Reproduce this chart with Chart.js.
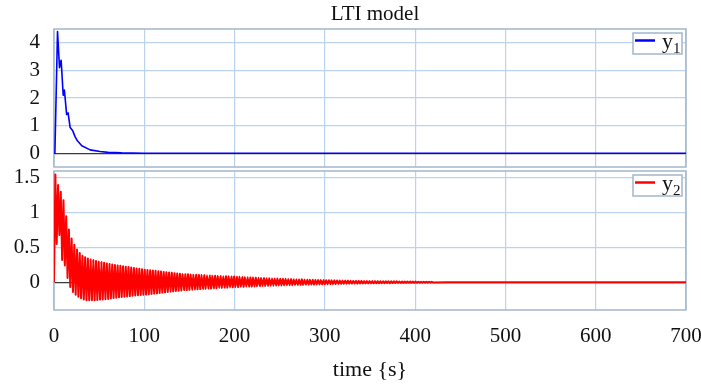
<!DOCTYPE html>
<html>
<head>
<meta charset="utf-8">
<script src="https://cdn.jsdelivr.net/npm/chart.js@4.4.1/dist/chart.umd.min.js"></script>
<style>
  body { margin: 0; background: #fff; width: 701px; height: 385px; position: relative; overflow: hidden; }
  canvas { position: absolute; left: 0; }
</style>
</head>
<body>
<canvas id="topChart" width="701" height="170" style="top:0"></canvas>
<canvas id="bottomChart" width="701" height="235" style="top:150px"></canvas>
<script>
// axis ticks
const xTicks = [0, 100, 200, 300, 400, 500, 600, 700];
const y1Ticks = [0, 1, 2, 3, 4];
const y2Ticks = [0, 0.5, 1, 1.5];

// series names (letter + subscript)
const seriesNames = ['y', 'y'];
const seriesSubs = ['1', '2'];

// y1 (blue)
const time1 = [0, 1, 3.9, 6.1, 7.9, 10.2, 11.5, 14, 15.6, 17.9, 20.8, 23.3, 25.9, 30.8, 40, 51, 60, 75, 100, 200, 300, 400, 500, 600, 700];
const y1Values = [0, 0.05, 4.41, 3.1, 3.37, 2.1, 2.29, 1.4, 1.46, 0.93, 0.81, 0.6, 0.45, 0.27, 0.12, 0.06, 0.03, 0.01, 0, 0, 0, 0, 0, 0, 0];

// y2 (red) - peaks / troughs of the oscillation
const time2 = [
  0,1.5,3,4.5,6,7.5,9,10.5,12,13.5,15,16.5,18,19.5,21,22.5,24,25.5,27,28.5,
  30,31.5,33,34.5,36,37.5,39,40.5,42,43.5,45,46.5,48,49.5,51,52.5,54,55.5,57,58.5,
  60,61.5,63,64.5,66,67.5,69,70.5,72,73.5,75,76.5,78,79.5,81,82.5,84,85.5,87,88.5,
  90,91.5,93,94.5,96,97.5,99,100.5,102,103.5,105,106.5,108,109.5,111,112.5,114,115.5,117,118.5,
  120,121.5,123,124.5,126,127.5,129,130.5,132,133.5,135,136.5,138,139.5,141,142.5,144,145.5,147,148.5,
  150,151.5,153,154.5,156,157.5,159,160.5,162,163.5,165,166.5,168,169.5,171,172.5,174,175.5,177,178.5,
  180,181.5,183,184.5,186,187.5,189,190.5,192,193.5,195,196.5,198,199.5,201,202.5,204,205.5,207,208.5,
  210,211.5,213,214.5,216,217.5,219,220.5,222,223.5,225,226.5,228,229.5,231,232.5,234,235.5,237,238.5,
  240,241.5,243,244.5,246,247.5,249,250.5,252,253.5,255,256.5,258,259.5,261,262.5,264,265.5,267,268.5,
  270,271.5,273,274.5,276,277.5,279,280.5,282,283.5,285,286.5,288,289.5,291,292.5,294,295.5,297,298.5,
  300,301.5,303,304.5,306,307.5,309,310.5,312,313.5,315,316.5,318,319.5,321,322.5,324,325.5,327,328.5,
  330,331.5,333,334.5,336,337.5,339,340.5,342,343.5,345,346.5,348,349.5,351,352.5,354,355.5,357,358.5,
  360,361.5,363,364.5,366,367.5,369,370.5,372,373.5,375,376.5,378,379.5,381,382.5,384,385.5,387,388.5,
  390,391.5,393,394.5,396,397.5,399,400.5,402,403.5,405,406.5,408,409.5,411,412.5,414,415.5,417,418.5,420,450,500,600,700
];
const y2Values = [
  0,1.55,0.55,1.40,0.68,1.30,0.32,1.18,0.24,0.95,0.06,0.76,-0.07,0.63,-0.14,0.54,-0.18,0.47,-0.21,0.42,
  -0.23,0.38,-0.25,0.36,-0.26,0.34,-0.26,0.33,-0.26,0.32,-0.26,0.305,-0.255,0.295,-0.25,0.29,-0.25,0.28,-0.245,0.27,
  -0.24,0.262,-0.235,0.255,-0.228,0.247,-0.222,0.24,-0.217,0.235,-0.212,0.228,-0.208,0.222,-0.204,0.217,-0.2,0.21,-0.196,0.204,
  -0.19,0.198,-0.187,0.192,-0.184,0.186,-0.181,0.18,-0.178,0.176,-0.174,0.172,-0.169,0.167,-0.164,0.163,-0.16,0.158,-0.155,0.153,
  -0.15,0.148,-0.146,0.144,-0.141,0.139,-0.136,0.135,-0.132,0.13,-0.127,0.125,-0.122,0.12,-0.119,0.118,-0.116,0.116,-0.113,0.113,
  -0.11,0.111,-0.108,0.109,-0.105,0.107,-0.102,0.105,-0.099,0.103,-0.097,0.101,-0.095,0.099,-0.093,0.097,-0.091,0.094,-0.089,0.092,
  -0.086,0.09,-0.084,0.089,-0.082,0.087,-0.08,0.086,-0.078,0.084,-0.076,0.083,-0.074,0.081,-0.071,0.079,-0.07,0.077,-0.068,0.075,
  -0.067,0.073,-0.065,0.071,-0.064,0.069,-0.062,0.066,-0.061,0.065,-0.059,0.063,-0.058,0.062,-0.056,0.06,-0.055,0.058,-0.053,0.057,
  -0.052,0.055,-0.05,0.054,-0.049,0.053,-0.048,0.051,-0.047,0.05,-0.046,0.048,-0.045,0.047,-0.044,0.046,-0.043,0.044,-0.042,0.043,
  -0.041,0.042,-0.04,0.041,-0.039,0.039,-0.038,0.038,-0.037,0.037,-0.036,0.036,-0.035,0.035,-0.034,0.034,-0.033,0.033,-0.032,0.032,
  -0.031,0.031,-0.03,0.03,-0.029,0.029,-0.028,0.028,-0.027,0.027,-0.026,0.026,-0.025,0.025,-0.025,0.024,-0.024,0.023,-0.023,0.022,
  -0.022,0.022,-0.021,0.021,-0.021,0.02,-0.02,0.02,-0.019,0.019,-0.019,0.018,-0.018,0.018,-0.017,0.017,-0.017,0.016,-0.016,0.016,
  -0.016,0.015,-0.015,0.015,-0.015,0.014,-0.014,0.014,-0.014,0.013,-0.013,0.012,-0.012,0.012,-0.011,0.011,-0.011,0.01,-0.01,0.01,
  -0.01,0.009,-0.009,0.009,-0.009,0.008,-0.008,0.008,-0.008,0.007,-0.007,0.007,-0.007,0.006,-0.006,0.006,-0.006,0.005,-0.005,0.005,-0.005,0,0,0,0
];

const FONT = '"Liberation Serif", "Times New Roman", serif';
const GRID = '#bcd3ee';
const FRAME = '#a3b7cd';

const toPoints = (ts, vs) => ts.map((t, i) => ({ x: t, y: vs[i] }));

// frame around plot area
const framePlugin = {
  id: 'frame',
  beforeDatasetsDraw(chart) {
    const { ctx, chartArea: a } = chart;
    ctx.save();
    ctx.strokeStyle = FRAME;
    ctx.lineWidth = 1.5;
    ctx.strokeRect(a.left, a.top, a.right - a.left, a.bottom - a.top);
    ctx.restore();
  }
};

// boxed legend in the top-right corner, with subscript
const boxLegend = {
  id: 'boxLegend',
  afterDraw(chart, args, opts) {
    const { ctx, chartArea: a } = chart;
    const color = chart.data.datasets[0].borderColor;
    const w = 49, h = 21;
    const x = a.right - w - 4, y = a.top + 4;
    ctx.save();
    ctx.fillStyle = '#fff';
    ctx.fillRect(x, y, w, h);
    ctx.strokeStyle = FRAME;
    ctx.lineWidth = 1.5;
    ctx.strokeRect(x, y, w, h);
    ctx.strokeStyle = color;
    ctx.lineWidth = 2.5;
    ctx.beginPath();
    ctx.moveTo(x + 2, y + 7.5);
    ctx.lineTo(x + 22, y + 7.5);
    ctx.stroke();
    ctx.fillStyle = '#111';
    ctx.textBaseline = 'alphabetic';
    ctx.font = '22px ' + FONT;
    ctx.fillText(opts.name, x + 29, y + 14.5);
    ctx.font = '15px ' + FONT;
    ctx.fillText(opts.sub, x + 40, y + 20);
    ctx.restore();
  }
};

// chart title drawn over the plot area centre
const plotTitle = {
  id: 'plotTitle',
  afterDraw(chart, args, opts) {
    if (!opts.text) return;
    const { ctx, chartArea: a } = chart;
    ctx.save();
    ctx.fillStyle = '#111';
    ctx.font = '21px ' + FONT;
    ctx.textAlign = 'center';
    ctx.textBaseline = 'middle';
    ctx.fillText(opts.text, (a.left + a.right) / 2 + 5, 14);
    ctx.restore();
  }
};

function yScale(min, max, ticks) {
  return {
    type: 'linear', min: min, max: max,
    afterBuildTicks: s => { s.ticks = ticks.map(v => ({ value: v })); },
    afterFit: s => { s.width = 54; s.paddingTop = 0; s.paddingBottom = 0; },
    border: { display: false },
    grid: {
      drawTicks: false,
      color: c => (c.tick && c.tick.value === 0) ? '#3a3a3a' : GRID,
      lineWidth: 1.2
    },
    ticks: {
      padding: 14, color: '#111',
      font: { family: FONT, size: 21 },
      callback: v => String(v)
    }
  };
}

function xScale(showLabels) {
  return {
    type: 'linear', min: 0, max: 700,
    afterBuildTicks: s => { s.ticks = xTicks.map(v => ({ value: v })); },
    afterFit: s => { s.height = showLabels ? 75 : 0; s.paddingLeft = 0; s.paddingRight = 0; },
    border: { display: false },
    grid: { drawTicks: false, color: GRID, lineWidth: 1.2 },
    ticks: {
      display: showLabels, padding: 14, color: '#111', maxRotation: 0,
      font: { family: FONT, size: 21 },
      callback: v => String(v)
    },
    title: {
      display: showLabels, text: 'time {s}', color: '#111',
      font: { family: FONT, size: 22 },
      padding: { top: 0, bottom: 2 }
    }
  };
}

const common = {
  responsive: false,
  animation: false,
  plugins: { legend: { display: false }, tooltip: { enabled: false } },
  elements: { point: { radius: 0 }, line: { tension: 0, borderJoinStyle: 'round' } }
};

new Chart(document.getElementById('topChart'), {
  type: 'line',
  data: {
    datasets: [{
      label: seriesNames[0] + seriesSubs[0],
      data: toPoints(time1, y1Values),
      borderColor: '#0000ff', borderWidth: 1.6
    }]
  },
  options: {
    ...common,
    layout: { autoPadding: false, padding: { left: 0, right: 15, top: 29, bottom: 3 } },
    plugins: {
      ...common.plugins,
      boxLegend: { name: seriesNames[0], sub: seriesSubs[0] },
      plotTitle: { text: 'LTI model' }
    },
    scales: { x: xScale(false), y: yScale(-0.5, 4.5, y1Ticks) }
  },
  plugins: [framePlugin, boxLegend, plotTitle]
});

new Chart(document.getElementById('bottomChart'), {
  type: 'line',
  data: {
    datasets: [{
      label: seriesNames[1] + seriesSubs[1],
      data: toPoints(time2, y2Values),
      borderColor: '#ff0000', borderWidth: 2,
      borderJoinStyle: 'round',
      tension: 0.0001  // keeps Chart.js off its per-pixel fast path, so every swing is drawn
    }]
  },
  options: {
    ...common,
    layout: { autoPadding: false, padding: { left: 0, right: 15, top: 21, bottom: 0 } },
    plugins: {
      ...common.plugins,
      boxLegend: { name: seriesNames[1], sub: seriesSubs[1] },
      plotTitle: { text: '' }
    },
    scales: { x: xScale(true), y: yScale(-0.4, 1.6, y2Ticks) }
  },
  plugins: [framePlugin, boxLegend, plotTitle]
});
</script>
</body>
</html>
